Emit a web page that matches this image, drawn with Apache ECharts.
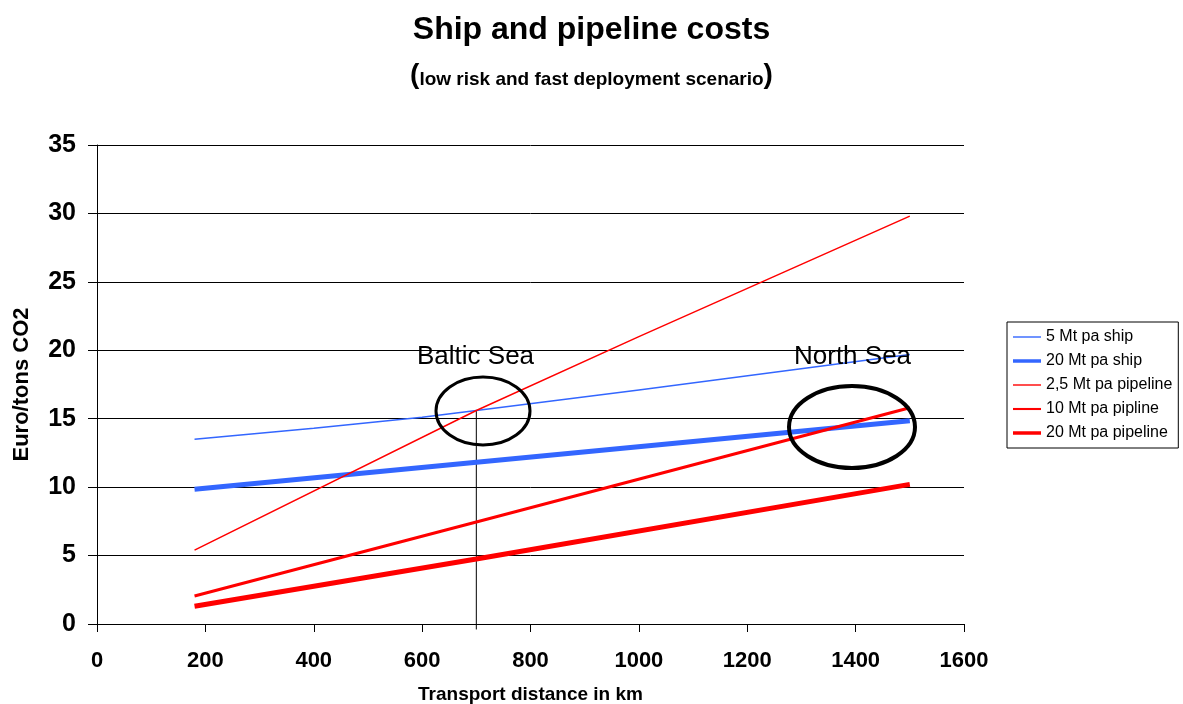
<!DOCTYPE html>
<html><head><meta charset="utf-8">
<script src="https://cdn.jsdelivr.net/npm/echarts@6/dist/echarts.min.js"></script>
<style>html,body{margin:0;padding:0;background:#fff}#c{width:1183px;height:704px}</style>
</head><body><div id="c"></div>
<script>
// Data
const seriesNames = ['5 Mt pa ship','20 Mt pa ship','2,5 Mt pa pipeline','10 Mt pa pipline','20 Mt pa pipeline'];
const ship5Km = [180, 400, 600, 700, 1000, 1500];
const ship5Val = [13.5, 14.3, 15.1, 15.6, 17.1, 19.7];
const ship20Km = [180, 1500];
const ship20Val = [9.85, 14.85];
const pipe25Km = [180, 700, 1000, 1500];
const pipe25Val = [5.4, 15.6, 21.0, 29.8];
const pipe10Km = [180, 700, 1500];
const pipe10Val = [2.05, 7.45, 15.8];
const pipe20Km = [180, 700, 1500];
const pipe20Val = [1.3, 4.75, 10.2];
const markerKm = [700, 700];
const markerVal = [15.6, -0.4];
const xTicks = {min: 0, max: 1600, interval: 200};
const yTicks = {min: 0, max: 35, interval: 5};

const zip = (a, b) => a.map((v, i) => [v, b[i]]);
const chart = echarts.init(document.getElementById('c'), null, {renderer: 'canvas'});
const font = 'Arial, "Liberation Sans", sans-serif';
const colors = ['#3366FF', '#3366FF', '#FF0000', '#FF0000', '#FF0000'];
const widths = [1.5, 5, 1.5, 3, 5];
function line(i, km, val) {
  return {name: seriesNames[i], type: 'line', data: zip(km, val), showSymbol: false, symbol: 'none',
    lineStyle: {color: colors[i], width: widths[i]}, itemStyle: {color: colors[i]}, animation: false, z: 3};
}
chart.setOption({
  animation: false,
  textStyle: {fontFamily: font},
  title: [{
    text: 'Ship and pipeline costs',
    left: 'center', top: 9,
    textStyle: {fontFamily: font, fontSize: 32, fontWeight: 'bold', color: '#000'}
  }, {
    text: '{p|(}{t|low risk and fast deployment scenario}{p|)}',
    left: 'center', top: 56,
    textStyle: {rich: {
      p: {fontFamily: font, fontSize: 28, fontWeight: 'bold', color: '#000'},
      t: {fontFamily: font, fontSize: 19, fontWeight: 'bold', color: '#000', verticalAlign: 'bottom'}
    }}
  }],
  grid: {left: 97, right: 219, top: 145, bottom: 80, containLabel: false, outerBoundsMode: 'none'},
  legend: {
    orient: 'vertical', left: 1007, top: 322,
    data: seriesNames.map((n, i) => ({name: n,
      icon: 'path://M0,0H40V' + Math.max(widths[i], 2) + 'H0Z'})),
    itemWidth: 28, itemHeight: 14, itemGap: 8,
    symbolKeepAspect: true,
    padding: [7, 6, 7, 6],
    borderColor: '#000', borderWidth: 1,
    textStyle: {fontFamily: font, fontSize: 16, color: '#000'}
  },
  xAxis: {
    type: 'value', min: xTicks.min, max: xTicks.max, interval: xTicks.interval,
    name: 'Transport distance in km', nameLocation: 'middle', nameGap: 61,
    nameTextStyle: {fontFamily: font, fontSize: 19, fontWeight: 'bold', color: '#000'},
    axisLine: {show: true, lineStyle: {color: '#000', width: 1}},
    axisTick: {show: true, length: 8, lineStyle: {color: '#000'}},
    axisLabel: {fontFamily: font, fontSize: 22, fontWeight: 'bold', color: '#000', margin: 26,
      formatter: v => String(v)},
    splitLine: {show: false}
  },
  yAxis: {
    type: 'value', min: yTicks.min, max: yTicks.max, interval: yTicks.interval,
    name: 'Euro/tons CO2', nameLocation: 'middle', nameGap: 64, nameRotate: 90,
    nameTextStyle: {fontFamily: font, fontSize: 22, fontWeight: 'bold', color: '#000'},
    axisLine: {show: true, lineStyle: {color: '#000', width: 1}},
    axisTick: {show: true, length: 9, lineStyle: {color: '#000'}},
    axisLabel: {fontFamily: font, fontSize: 25, fontWeight: 'bold', color: '#000', margin: 21},
    splitLine: {show: true, lineStyle: {color: '#000', width: 1}}
  },
  series: [
    line(0, ship5Km, ship5Val),
    line(1, ship20Km, ship20Val),
    line(2, pipe25Km, pipe25Val),
    line(3, pipe10Km, pipe10Val),
    line(4, pipe20Km, pipe20Val),
    {name: 'marker', type: 'line', data: zip(markerKm, markerVal), showSymbol: false, symbol: 'none',
      clip: false, lineStyle: {color: '#000', width: 1}, z: 2, silent: true}
  ],
  graphic: [
    {type: 'ellipse', shape: {cx: 483, cy: 411, rx: 47, ry: 34}, style: {fill: 'none', stroke: '#000', lineWidth: 3}, z: 10},
    {type: 'ellipse', shape: {cx: 852, cy: 427, rx: 63, ry: 41}, style: {fill: 'none', stroke: '#000', lineWidth: 4}, z: 10},
    {type: 'text', left: 417, top: 344, style: {text: 'Baltic Sea', font: '26px Arial, "Liberation Sans", sans-serif', fill: '#000'}, z: 10},
    {type: 'text', left: 794, top: 344, style: {text: 'North Sea', font: '26px Arial, "Liberation Sans", sans-serif', fill: '#000'}, z: 10}
  ]
});
</script></body></html>
